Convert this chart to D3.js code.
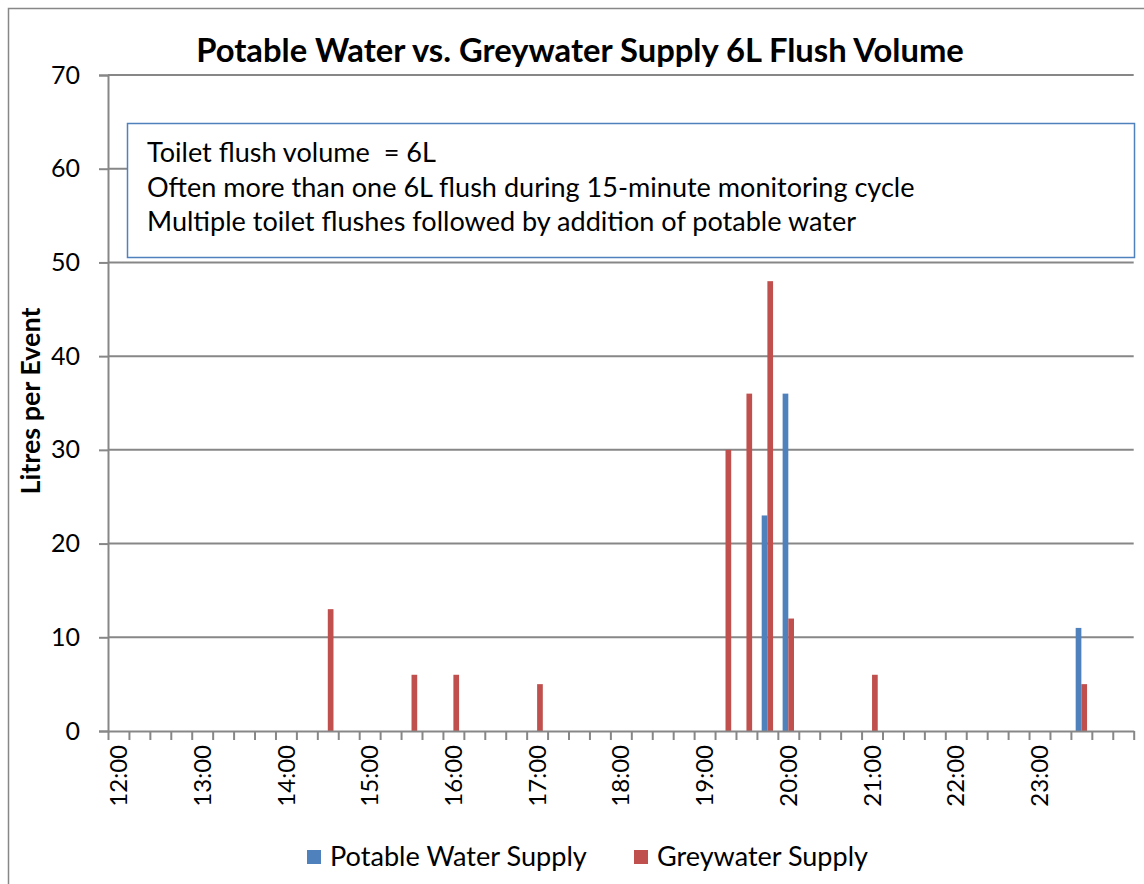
<!DOCTYPE html>
<html>
<head>
<meta charset="utf-8">
<script src="https://cdn.jsdelivr.net/npm/d3@7"></script>
<style>
  body { margin: 0; background: #fff; }
  svg { display: block; font-family: Lato, "Open Sans", sans-serif; }
  text { white-space: pre; }
</style>
</head>
<body>
<div id="frame"></div>
<script>
// 15-minute monitoring slots, 12:00 to midnight
let categories = [
    "12:00", "12:15", "12:30", "12:45", "13:00", "13:15", "13:30", "13:45",
    "14:00", "14:15", "14:30", "14:45", "15:00", "15:15", "15:30", "15:45",
    "16:00", "16:15", "16:30", "16:45", "17:00", "17:15", "17:30", "17:45",
    "18:00", "18:15", "18:30", "18:45", "19:00", "19:15", "19:30", "19:45",
    "20:00", "20:15", "20:30", "20:45", "21:00", "21:15", "21:30", "21:45",
    "22:00", "22:15", "22:30", "22:45", "23:00", "23:15", "23:30", "23:45",
    "0:00"
];
let xTickLabels = ["12:00", "13:00", "14:00", "15:00", "16:00", "17:00",
    "18:00", "19:00", "20:00", "21:00", "22:00", "23:00"];
let yTicks = [0, 10, 20, 30, 40, 50, 60, 70];

let potable = [
    0, 0, 0, 0, 0, 0, 0, 0, 0, 0, 0, 0, 0, 0, 0, 0,
    0, 0, 0, 0, 0, 0, 0, 0, 0, 0, 0, 0, 0, 0, 0, 23,
    36, 0, 0, 0, 0, 0, 0, 0, 0, 0, 0, 0, 0, 0, 11, 0,
    0
];
let greywater = [
    0, 0, 0, 0, 0, 0, 0, 0, 0, 0, 13, 0, 0, 0, 6, 0,
    6, 0, 0, 0, 5, 0, 0, 0, 0, 0, 0, 0, 0, 30, 36, 48,
    12, 0, 0, 0, 6, 0, 0, 0, 0, 0, 0, 0, 0, 0, 5, 0,
    0
];
let seriesNames = ["Potable Water Supply", "Greywater Supply"];
let seriesColors = ["#4F81BD", "#C0504D"];
let notes = [
    "Toilet flush volume  = 6L",
    "Often more than one 6L flush during 15-minute monitoring cycle",
    "Multiple toilet flushes followed by addition of potable water"
];

let W = 1144, H = 884;
let plot = { left: 108, right: 1133.7, top: 75, bottom: 731 };
let grey = "#878787";

let svg = d3.select('#frame').append('svg')
    .attr('width', W).attr('height', H);

// shrink/grow font so the text spans the wanted width
function fit(sel, w) {
    let len = sel.node().getComputedTextLength();
    let fs = parseFloat(sel.style('font-size'));
    sel.style('font-size', (fs * w / len) + 'px');
    return fs * w / len;
}

// outer chart border (runs off the right / bottom of the picture)
svg.append('rect')
    .attr('x', 8.5).attr('y', 8.5).attr('width', 1200).attr('height', 950)
    .attr('fill', '#fff').attr('stroke', grey).attr('stroke-width', 1.5);

let x = d3.scaleBand().domain(categories).range([plot.left, plot.right]).padding(0);
let xSub = d3.scaleBand().domain(seriesNames).range([0, x.bandwidth()])
    .paddingInner(0).paddingOuter(0.84);
let xLin = d3.scaleLinear().domain([0, categories.length]).range([plot.left, plot.right]);
let y = d3.scaleLinear().domain([0, 70]).range([plot.bottom, plot.top]);

// y axis
let yAxis = svg.append('g')
    .attr('transform', 'translate(' + plot.left + ',0)')
    .call(d3.axisLeft(y).tickValues(yTicks).tickSize(9).tickPadding(19));
yAxis.select('.domain').attr('stroke', grey).attr('stroke-width', 2);
yAxis.selectAll('.tick line').attr('stroke', grey).attr('stroke-width', 2);
yAxis.selectAll('.tick text')
    .attr('fill', '#000')
    .style('font-size', '25px')
    .style('font-family', 'Lato, sans-serif');

// gridlines
svg.append('g')
    .selectAll('line')
    .data(yTicks.filter(d => d > 0))
    .enter().append('line')
    .attr('x1', plot.left).attr('x2', plot.right)
    .attr('y1', d => y(d)).attr('y2', d => y(d))
    .attr('stroke', grey).attr('stroke-width', 2);

// bars
let bars = svg.append('g');
[potable, greywater].forEach((vals, s) => {
    bars.selectAll('rect.s' + s)
        .data(vals.map((v, i) => ({ cat: categories[i], v: v })).filter(d => d.v > 0))
        .enter().append('rect')
        .attr('class', 's' + s)
        .attr('x', d => x(d.cat) + xSub(seriesNames[s]))
        .attr('width', xSub.bandwidth())
        .attr('y', d => y(d.v))
        .attr('height', d => y(0) - y(d.v))
        .attr('fill', seriesColors[s]);
});

// x axis: tick marks between slots
let xAxis = svg.append('g')
    .attr('transform', 'translate(0,' + plot.bottom + ')')
    .call(d3.axisBottom(xLin).tickValues(d3.range(categories.length + 1))
        .tickSize(9).tickSizeOuter(0).tickFormat(''));
xAxis.select('.domain').attr('stroke', grey).attr('stroke-width', 2);
xAxis.selectAll('.tick line').attr('stroke', grey).attr('stroke-width', 2);

// hour labels, rotated
svg.append('g')
    .selectAll('text')
    .data(xTickLabels)
    .enter().append('text')
    .attr('transform', d => 'translate(' + (x(d) + x.bandwidth() / 2) + ',745) rotate(-90)')
    .attr('dy', '0.36em')
    .attr('text-anchor', 'end')
    .style('font-size', '24px')
    .text(d => d);

// annotation box
svg.append('rect')
    .attr('x', 127.5).attr('y', 123.5).attr('width', 1007).attr('height', 134)
    .attr('fill', '#fff').attr('stroke', '#4F81BD').attr('stroke-width', 1.5);
let noteY = [162, 197, 231];
let noteText = svg.append('g').selectAll('text')
    .data(notes).enter().append('text')
    .attr('x', 147).attr('y', (d, i) => noteY[i])
    .style('font-size', '24px')
    .text(d => d);
let noteSize = fit(d3.select(noteText.nodes()[1]), 768);
noteText.style('font-size', noteSize + 'px');

// title
let title = svg.append('text')
    .attr('x', 580).attr('y', 62)
    .attr('text-anchor', 'middle')
    .style('font-weight', 'bold')
    .style('font-size', '28px')
    .text('Potable Water vs. Greywater Supply 6L Flush Volume');
fit(title, 768);

// y axis title
let yTitle = svg.append('text')
    .attr('transform', 'translate(40,401) rotate(-90)')
    .attr('text-anchor', 'middle')
    .style('font-weight', 'bold')
    .style('font-size', '21px')
    .text('Litres per Event');
fit(yTitle, 187);

// legend
let legX = [307, 634], legTextX = [330, 657], legW = [257, 211];
seriesNames.forEach((name, s) => {
    svg.append('rect')
        .attr('x', legX[s]).attr('y', 850)
        .attr('width', 14).attr('height', 14)
        .attr('fill', seriesColors[s]);
    let t = svg.append('text')
        .attr('x', legTextX[s]).attr('y', 866)
        .style('font-size', '24px')
        .text(name);
    fit(t, legW[s]);
});
</script>
</body>
</html>
